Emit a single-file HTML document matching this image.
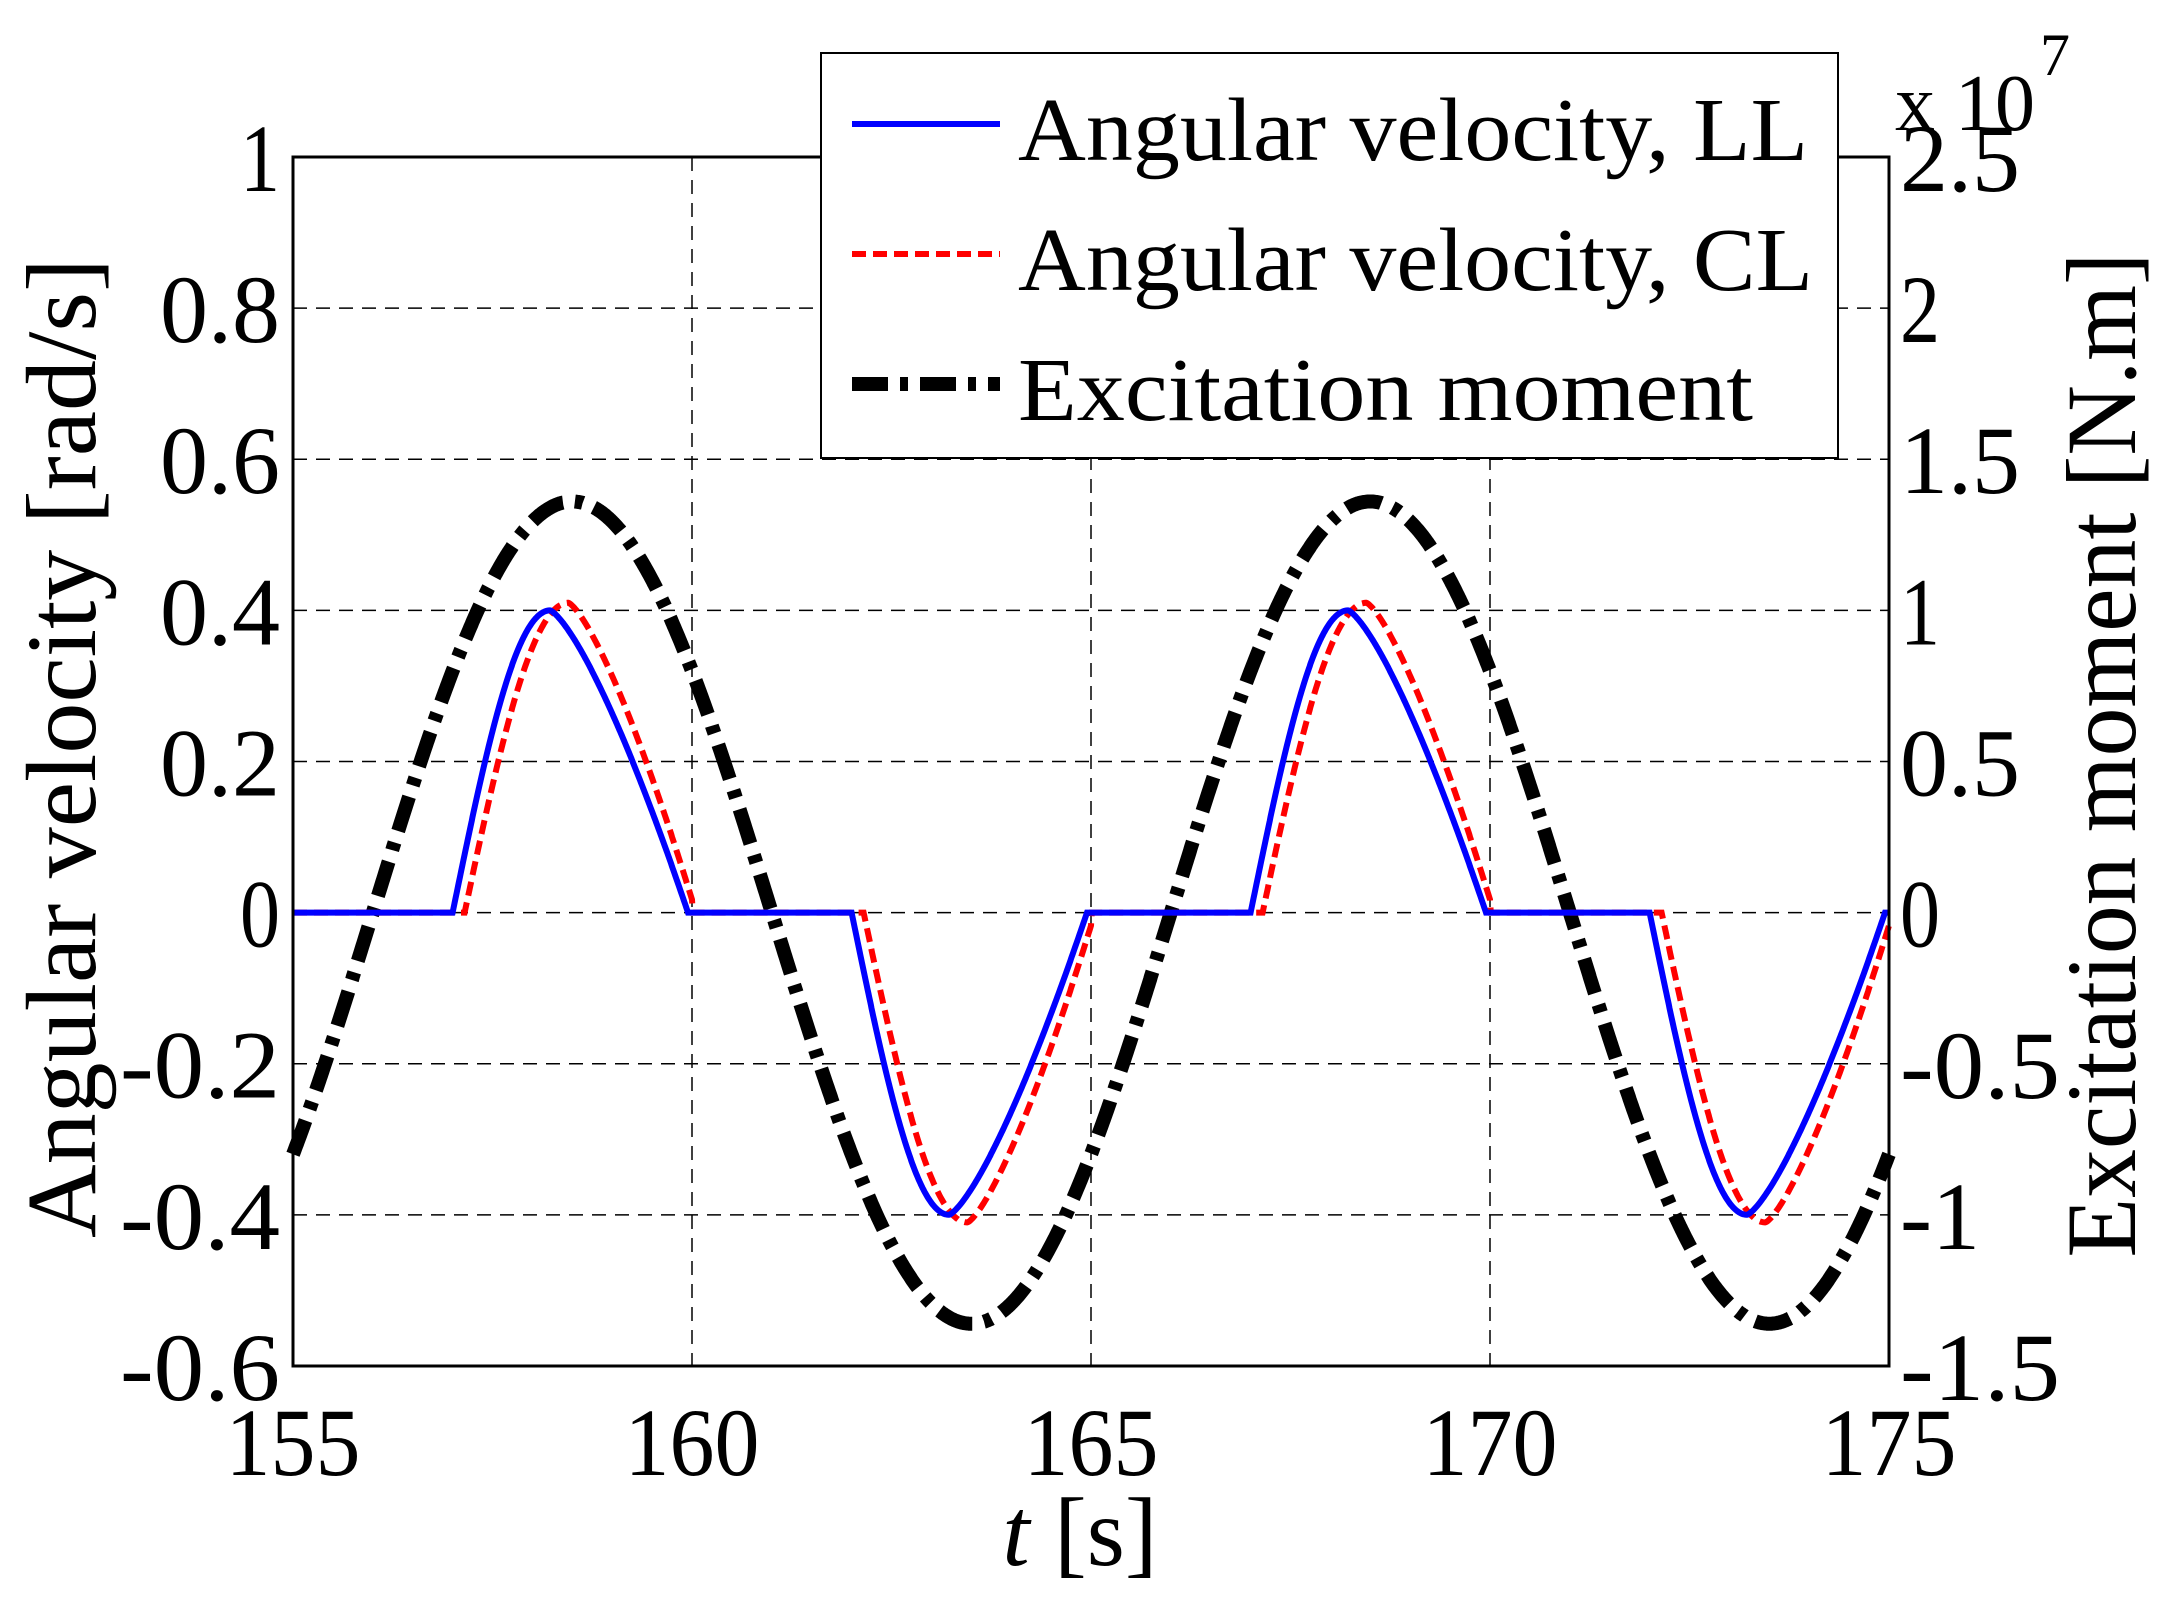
<!DOCTYPE html>
<html><head><meta charset="utf-8"><style>
html,body{margin:0;padding:0;background:#fff;}
svg{display:block;}
text{font-family:"Liberation Serif",serif;fill:#000;}
</style></head><body>
<svg id="s" width="2171" height="1603" viewBox="0 0 2171 1603" xmlns="http://www.w3.org/2000/svg">
<rect width="2171" height="1603" fill="#fff"/>
<g id="grid" stroke="#000" stroke-width="1.5" stroke-dasharray="14,9"></g>
<g id="curves"></g>
<rect x="293" y="157" width="1596" height="1209" fill="none" stroke="#000" stroke-width="3"/>
<g id="ticks" font-size="96"></g>
<text x="95" y="748" font-size="100" text-anchor="middle" transform="rotate(-90 95 748)" textLength="980" lengthAdjust="spacingAndGlyphs">Angular velocity [rad/s]</text>
<text x="2135" y="755" font-size="100" text-anchor="middle" transform="rotate(-90 2135 755)" textLength="1005" lengthAdjust="spacingAndGlyphs">Excitation moment [N.m]</text>
<text x="1895" y="130" font-size="80">x 10</text>
<text x="2040" y="75" font-size="60">7</text>
<text x="1080" y="1565" font-size="98" text-anchor="middle"><tspan font-style="italic">t</tspan> [s]</text>
<rect x="821" y="53" width="1017" height="405" fill="#fff" stroke="#000" stroke-width="2"/>
<line x1="852" y1="124" x2="1000" y2="124" stroke="#00f" stroke-width="6"/>
<line x1="852" y1="254" x2="1000" y2="254" stroke="#f00" stroke-width="6" stroke-dasharray="14,7"/>
<line x1="852" y1="384" x2="1000" y2="384" stroke="#000" stroke-width="14" stroke-dasharray="36,12,8,12"/>
<text x="1018" y="160" font-size="90" textLength="790" lengthAdjust="spacingAndGlyphs">Angular velocity, LL</text>
<text x="1018" y="290" font-size="90" textLength="795" lengthAdjust="spacingAndGlyphs">Angular velocity, CL</text>
<text x="1018" y="420" font-size="90" textLength="735" lengthAdjust="spacingAndGlyphs">Excitation moment</text>
</svg>
<script>
const NS="http://www.w3.org/2000/svg";
const X=t=>293+(t-155)*79.8, Y=v=>912.6-v*755.6, YR=m=>912.6-m*302.3;
function el(p,tag,a){const e=document.createElementNS(NS,tag);for(const k in a)e.setAttribute(k,a[k]);p.appendChild(e);return e;}
const g=document.getElementById('grid'),tk=document.getElementById('ticks'),cv=document.getElementById('curves');
[160,165,170].forEach(t=>el(g,'line',{x1:X(t),y1:157,x2:X(t),y2:1366}));
[0.8,0.6,0.4,0.2,0,-0.2,-0.4].forEach(v=>el(g,'line',{x1:293,y1:Y(v),x2:1889,y2:Y(v)}));
[1,0.8,0.6,0.4,0.2,0,-0.2,-0.4,-0.6].forEach(v=>{const s=(v==0?'0':String(v));const e=el(tk,'text',{x:280,y:Y(v)+34,'text-anchor':'end',textLength:s.length*40,lengthAdjust:'spacingAndGlyphs'});e.textContent=s;});
[2.5,2,1.5,1,0.5,0,-0.5,-1,-1.5].forEach(v=>{const s=String(v);const e=el(tk,'text',{x:1900,y:YR(v)+34,textLength:s.length*40,lengthAdjust:'spacingAndGlyphs'});e.textContent=s;});
[155,160,165,170,175].forEach(t=>{const e=el(tk,'text',{x:X(t),y:1475,'text-anchor':'middle',textLength:135,lengthAdjust:'spacingAndGlyphs'});e.textContent=t;});
function vel(t,s,a,r,f){
  let p=((t-155)%10+10)%10, sign=1;
  if(p>=5){p-=5;sign=-1;}
  const t0=2+s, tp=t0+r, te=5+f;
  if(p<t0||p>te) return 0;
  if(p<tp) return sign*a*Math.sin(Math.PI/2*(p-t0)/r);
  const u=(p-tp)/(te-tp); return sign*a*(1-Math.pow(u,1.35));
}
function path(fn,yf){let d='';for(let t=155;t<=175.0001;t+=0.01){d+=(d?'L':'M')+X(t).toFixed(1)+','+yf(fn(t)).toFixed(1);}return d;}
el(cv,'path',{d:path(t=>1.36*Math.sin(2*Math.PI*(t-156)/10),YR),fill:'none',stroke:'#000','stroke-width':14,'stroke-dasharray':'36,12,8,12'});
el(cv,'path',{d:path(t=>vel(t,0.15,0.41,1.3,0.05),Y),fill:'none',stroke:'#f00','stroke-width':6,'stroke-dasharray':'14,7'});
el(cv,'path',{d:path(t=>vel(t,0,0.40,1.22,-0.05),Y),fill:'none',stroke:'#00f','stroke-width':6});
</script>
</body></html>
